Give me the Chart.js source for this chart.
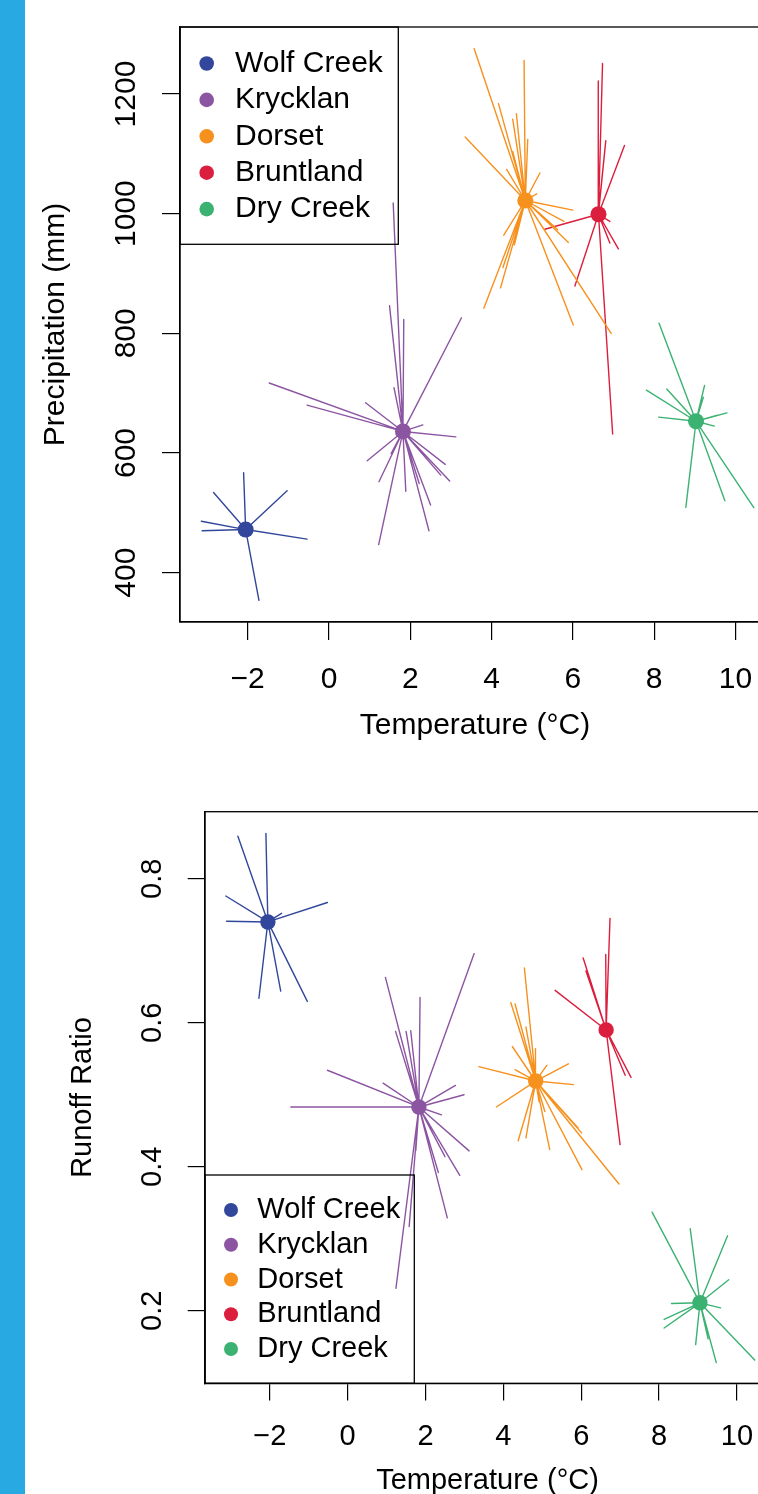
<!DOCTYPE html>
<html>
<head>
<meta charset="utf-8">
<script src="https://cdn.jsdelivr.net/npm/chart.js@4.4.1/dist/chart.umd.min.js"></script>
<style>
  html, body { margin: 0; padding: 0; overflow: hidden; background: #fff; width: 758px; height: 1494px; }
  #bar { position: absolute; left: 0; top: 0; width: 25px; height: 1494px; background: #29a9e1; z-index: 2; }
  #c1 { position: absolute; left: 0; top: 0; }
  #c2 { position: absolute; left: 0; top: 770px; }
</style>
</head>
<body>
<div id="bar"></div>
<canvas id="c1" width="800" height="770"></canvas>
<canvas id="c2" width="800" height="740"></canvas>
<script>
const sites = ['Wolf Creek', 'Krycklan', 'Dorset', 'Bruntland', 'Dry Creek'];
const siteColors = ['#32479b', '#8c55a2', '#f7911e', '#dc1e3e', '#3bb272'];

const tempTicks = [-2, 0, 2, 4, 6, 8, 10];
const precipTicks = [400, 600, 800, 1000, 1200];
const runoffTicks = [0.2, 0.4, 0.6, 0.8];

// site means (temperature, precipitation) and (temperature, runoff ratio)
const meanTemp1 = [-2.05, 1.82, 4.83, 6.63, 9.03];
const meanPrecip = [472, 636, 1022, 999, 653];
const meanTemp2 = [-2.05, 1.83, 4.83, 6.64, 9.05];
const meanRunoff = [0.740, 0.483, 0.519, 0.590, 0.211];

// individual years, top panel
const wolfTemp1 = [-2.10, -2.84, -1.03, -3.14, -3.12, -0.54, -1.72];
const wolfPrecip = [567, 534, 537, 486, 470, 456, 353];
const kryTemp1 = [1.58, 1.49, 1.84, 3.26, -1.47, -0.54, 0.90, 1.60, 2.31, 3.12, 2.86, 2.97, 2.75, 2.50, 2.46, 2.22, 1.89, 1.53, 1.23, 0.94, 1.22];
const kryPrecip = [1018, 846, 823, 826, 717, 680, 684, 709, 647, 627, 581, 553, 563, 513, 470, 549, 536, 599, 552, 587, 446];
const dorTemp1 = [3.57, 4.80, 4.17, 4.61, 4.52, 4.89, 3.35, 4.52, 4.37, 5.19, 5.11, 6.00, 5.78, 5.89, 5.63, 4.30, 4.56, 4.28, 4.22, 3.81, 6.01, 6.95];
const dorPrecip = [1276, 1256, 1184, 1167, 1158, 1124, 1128, 1104, 1074, 1068, 1033, 1006, 987, 952, 973, 964, 948, 910, 876, 842, 814, 799];
const bruTemp1 = [6.73, 6.62, 6.81, 7.27, 5.31, 6.91, 6.91, 7.12, 6.05, 6.98];
const bruPrecip = [1251, 1222, 1122, 1114, 974, 987, 951, 941, 879, 631];
const dryTemp1 = [8.12, 7.81, 8.31, 8.11, 9.24, 9.21, 9.79, 9.56, 9.48, 8.78, 9.74, 10.46];
const dryPrecip = [817, 705, 707, 660, 713, 693, 667, 663, 645, 509, 520, 508];

// individual years, bottom panel
const wolfTemp2 = [-2.82, -2.10, -3.13, -3.11, -0.52, -1.70, -2.28, -1.72, -1.03];
const wolfRunoff = [0.859, 0.863, 0.776, 0.741, 0.767, 0.752, 0.634, 0.644, 0.629];
const kryTemp2 = [3.25, 0.97, 1.86, 1.23, 1.50, 1.62, -0.52, -1.46, 0.91, 2.77, 2.99, 2.41, 3.12, 2.88, 2.50, 2.33, 2.56, 1.58, 1.24, 1.75];
const kryRunoff = [0.696, 0.663, 0.635, 0.588, 0.588, 0.589, 0.534, 0.483, 0.516, 0.513, 0.500, 0.472, 0.422, 0.388, 0.414, 0.392, 0.329, 0.317, 0.231, 0.422];
const dorTemp2 = [4.54, 4.19, 4.30, 4.58, 4.82, 4.23, 3.37, 4.30, 5.12, 5.67, 5.80, 3.82, 4.56, 4.38, 4.58, 4.92, 5.19, 5.92, 6.01, 6.02, 6.97, 5.07];
const dorRunoff = [0.676, 0.628, 0.626, 0.594, 0.564, 0.567, 0.539, 0.535, 0.541, 0.543, 0.514, 0.483, 0.469, 0.436, 0.440, 0.490, 0.424, 0.454, 0.447, 0.396, 0.376, 0.476];
const bruTemp2 = [6.74, 6.63, 6.05, 6.12, 5.33, 7.13, 7.28, 7.00];
const bruRunoff = [0.745, 0.695, 0.690, 0.672, 0.645, 0.527, 0.524, 0.430];
const dryTemp2 = [7.82, 8.80, 9.76, 9.79, 9.58, 8.32, 8.13, 8.13, 8.94, 9.26, 9.47, 10.47];
const dryRunoff = [0.337, 0.314, 0.304, 0.243, 0.204, 0.210, 0.188, 0.176, 0.153, 0.161, 0.128, 0.131];

const fontFamily = "'Liberation Sans', Arial, Helvetica, sans-serif";

function starPoints(cx, cy, xs, ys) {
    let pts = [];
    for (let i = 0; i < xs.length; i++) {
        pts.push({x: cx, y: cy});
        pts.push({x: xs[i], y: ys[i]});
    }
    return pts;
}

function buildDatasets(meanX, meanY, yearX, yearY, dotRadius) {
    let datasets = [];
    for (let i = 0; i < sites.length; i++) {
        datasets.push({
            label: sites[i],
            data: [{x: meanX[i], y: meanY[i]}],
            backgroundColor: siteColors[i],
            borderWidth: 0,
            pointRadius: dotRadius,
            order: 0
        });
    }
    for (let i = 0; i < sites.length; i++) {
        datasets.push({
            label: sites[i] + ' years',
            data: starPoints(meanX[i], meanY[i], yearX[i], yearY[i]),
            showLine: true,
            borderColor: siteColors[i],
            borderWidth: 1.4,
            borderJoinStyle: 'round',
            pointRadius: 0,
            tension: 0,
            order: 1
        });
    }
    return datasets;
}

function fmtTick(v) {
    return v < 0 ? '\u2212' + Math.abs(v) : String(v);
}

// box round the plot region plus an R-style legend
const framePlugin = {
    id: 'frame',
    afterDraw(chart, args, opts) {
        const ctx = chart.ctx;
        const a = chart.chartArea;
        const lg = opts.legend;
        ctx.save();
        ctx.strokeStyle = '#000';
        ctx.lineWidth = 1.3;
        ctx.strokeRect(a.left, a.top, a.right - a.left, a.bottom - a.top);
        const x0 = a.left;
        const y0 = lg.corner === 'top' ? a.top : a.bottom - lg.height;
        ctx.strokeRect(x0, y0, lg.width, lg.height);
        ctx.font = lg.fontSize + 'px ' + fontFamily;
        ctx.textAlign = 'left';
        ctx.textBaseline = 'middle';
        for (let i = 0; i < sites.length; i++) {
            const y = y0 + lg.firstRow + i * lg.step;
            ctx.beginPath();
            ctx.arc(x0 + lg.dotX, y, lg.radius, 0, Math.PI * 2);
            ctx.fillStyle = siteColors[i];
            ctx.fill();
            ctx.fillStyle = '#000';
            ctx.fillText(sites[i], x0 + lg.textX, y);
        }
        ctx.restore();
    }
};

function makePanel(canvasId, p) {
    const gridOpts = {
        drawOnChartArea: false,
        drawTicks: true,
        tickLength: p.tickLength,
        color: '#000',
        lineWidth: 1.2
    };
    const font = {family: fontFamily, size: p.fontSize};
    return new Chart(document.getElementById(canvasId).getContext('2d'), {
        type: 'scatter',
        data: {datasets: p.datasets},
        plugins: [framePlugin],
        options: {
            responsive: false,
            animation: false,
            events: [],
            layout: {padding: {left: 0, top: p.padTop, right: 30, bottom: 0}},
            plugins: {
                legend: {display: false},
                tooltip: {enabled: false},
                frame: {legend: p.legend}
            },
            scales: {
                x: {
                    type: 'linear',
                    min: -3.665,
                    max: 10.85,
                    afterBuildTicks: function(s) { s.ticks = tempTicks.map(v => ({value: v})); },
                    afterFit: function(s) { s.height = p.xHeight; },
                    grid: gridOpts,
                    border: {display: true, color: '#000', width: 1.3},
                    ticks: {
                        color: '#000', font: font, padding: p.xTickPad,
                        autoSkip: false, minRotation: 0, maxRotation: 0,
                        callback: fmtTick
                    },
                    title: {
                        display: true, text: 'Temperature (\u00B0C)', color: '#000', font: font,
                        padding: {top: 0, bottom: p.xTitlePad}
                    }
                },
                y: {
                    type: 'linear',
                    min: p.yMin,
                    max: p.yMax,
                    afterBuildTicks: function(s) { s.ticks = p.yTicks.map(v => ({value: v})); },
                    afterFit: function(s) { s.width = p.yWidth; },
                    grid: gridOpts,
                    border: {display: true, color: '#000', width: 1.3},
                    ticks: {
                        color: '#000', font: font, padding: p.yTickPad,
                        autoSkip: false, minRotation: 90, maxRotation: 90, crossAlign: 'center',
                        callback: fmtTick
                    },
                    title: {
                        display: true, text: p.yTitle, color: '#000', font: font,
                        padding: {top: p.yTitlePad, bottom: 0}
                    }
                }
            }
        }
    });
}

makePanel('c1', {
    datasets: buildDatasets(meanTemp1, meanPrecip,
        [wolfTemp1, kryTemp1, dorTemp1, bruTemp1, dryTemp1],
        [wolfPrecip, kryPrecip, dorPrecip, bruPrecip, dryPrecip], 8),
    fontSize: 30,
    tickLength: 18,
    padTop: 27,
    xHeight: 148,
    yWidth: 180,
    xTickPad: 21.7,
    xTitlePad: 26.7,
    yTickPad: 2,
    yTitlePad: 38,
    yMin: 317.5,
    yMax: 1312,
    yTicks: precipTicks,
    yTitle: 'Precipitation (mm)',
    legend: {corner: 'top', width: 218.3, height: 217.3, dotX: 26.7, textX: 55, firstRow: 36.5, step: 36.4, radius: 7.3, fontSize: 30}
});

makePanel('c2', {
    datasets: buildDatasets(meanTemp2, meanRunoff,
        [wolfTemp2, kryTemp2, dorTemp2, bruTemp2, dryTemp2],
        [wolfRunoff, kryRunoff, dorRunoff, bruRunoff, dryRunoff], 7.7),
    fontSize: 29,
    tickLength: 17.3,
    padTop: 41.7,
    xHeight: 126.7,
    yWidth: 205,
    xTickPad: 18.7,
    xTitlePad: 11.6,
    yTickPad: 14.7,
    yTitlePad: 65.9,
    yMin: 0.0992,
    yMax: 0.8931,
    yTicks: runoffTicks,
    yTitle: 'Runoff Ratio',
    legend: {corner: 'bottom', width: 209.3, height: 208.3, dotX: 26, textX: 52.3, firstRow: 35, step: 34.75, radius: 7, fontSize: 29}
});
</script>
</body>
</html>
